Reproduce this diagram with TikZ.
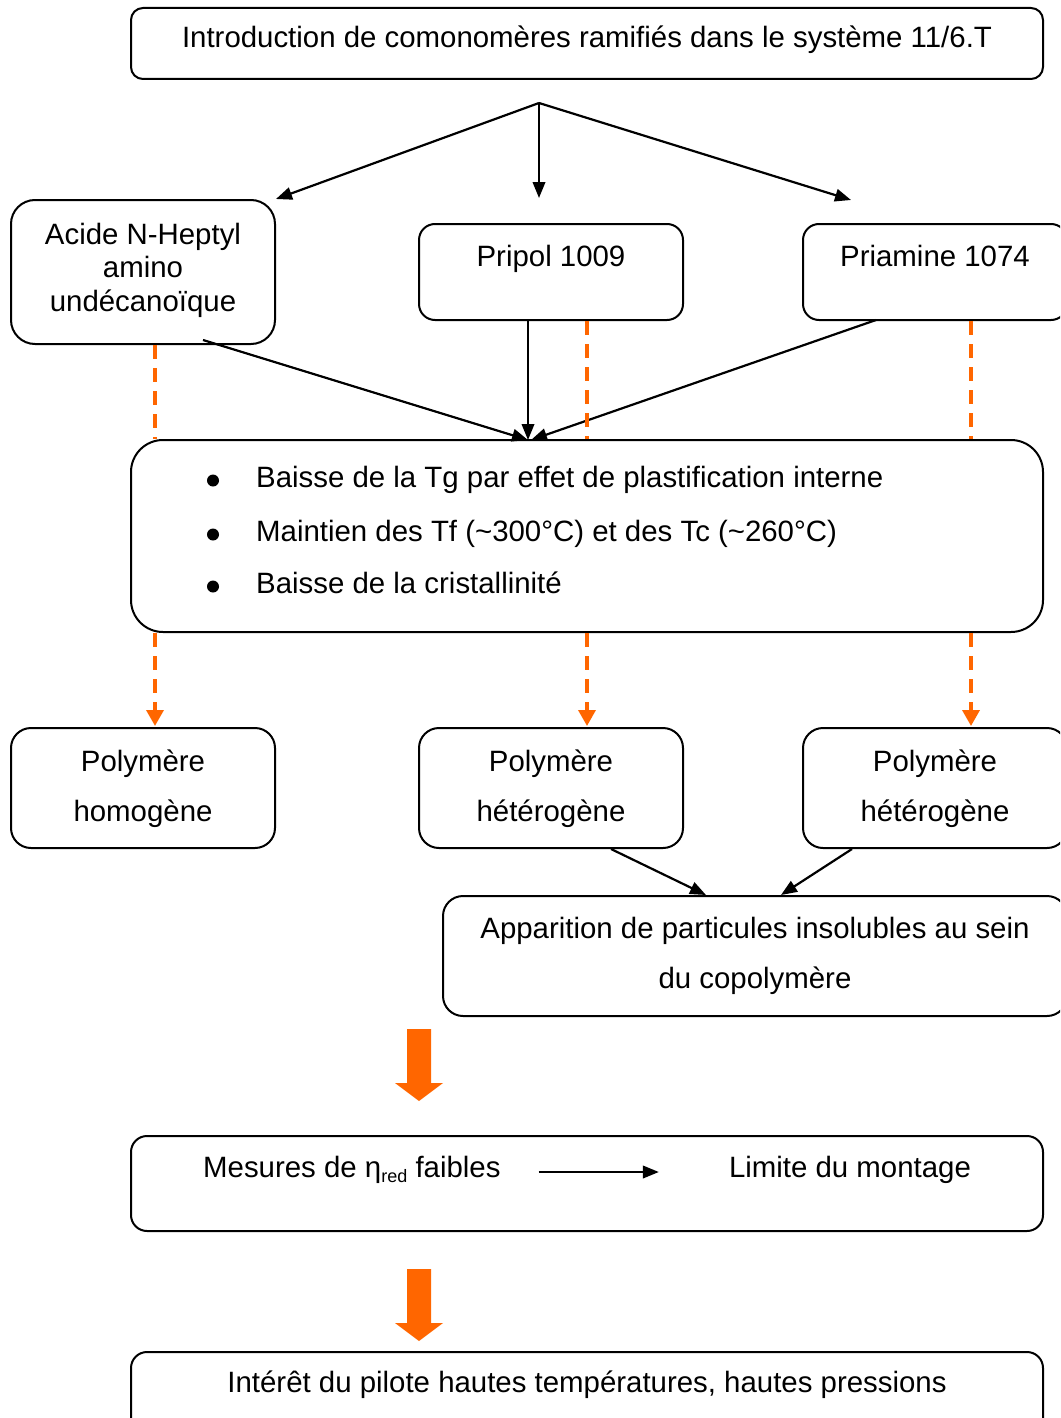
\documentclass[tikz,border=0pt]{standalone}
\usepackage{fontspec}
\setmainfont{Liberation Sans}
\usetikzlibrary{arrows.meta}
\definecolor{orangec}{HTML}{FF6600}

\begin{document}
\begin{tikzpicture}[x=1pt, y=-1pt,
    box/.style={draw, line width=2pt, fill=white, inner sep=0pt, rounded corners=#1},
    txt/.style={anchor=base, inner sep=0pt, font=\fontsize{29.4}{34}\selectfont},
    link/.style={line width=2.2pt, -{Triangle[length=16pt,width=12.5pt]}},
    orangedash/.style={orangec, line width=3.5pt, dash pattern=on 14pt off 9pt},
    orangetip/.style={-{Triangle[length=16pt,width=17pt]}, shorten >=1pt}]
    \useasboundingbox (0,0) rectangle (1060,1418);
    \clip (0,0) rectangle (1060,1418);

    % boxes
    \node[box=12, minimum width=912pt, minimum height=71pt] (top) at (587,43.5) {};
    \node[box=24, minimum width=264pt, minimum height=144pt] (acide) at (143,272) {};
    \node[box=16, minimum width=264pt, minimum height=96pt] (pripol) at (551,272) {};
    \node[box=16, minimum width=264pt, minimum height=96pt] (priamine) at (935,272) {};
    \node[box=32, minimum width=912pt, minimum height=192pt] (main) at (587,536) {};
    \node[box=20, minimum width=264pt, minimum height=120pt] (polyA) at (143,788) {};
    \node[box=20, minimum width=264pt, minimum height=120pt] (polyB) at (551,788) {};
    \node[box=20, minimum width=264pt, minimum height=120pt] (polyC) at (935,788) {};
    \node[box=20, minimum width=624pt, minimum height=120pt] (app) at (755,956) {};
    \node[box=16, minimum width=912pt, minimum height=95pt] (mes) at (587,1183.5) {};
    \node[box=16, minimum width=912pt, minimum height=96pt] (fin) at (587,1400) {};

    % texts
    \node[txt] (top-t) at (587,48) {Introduction de comonomères ramifiés dans le système 11/6.T};
    \foreach \s/\yy [count=\i] in {Acide N-Heptyl/244, amino/277, undécanoïque/311}
        \node[txt] (acide-\i) at (143,\yy) {\s};
    \node[txt] (pripol-t) at (551,266) {Pripol 1009};
    \node[txt] (priamine-t) at (935,266) {Priamine 1074};
    \foreach \yy/\s [count=\i] in {487/{Baisse de la Tg par effet de plastification interne},
            541/{Maintien des Tf (\textasciitilde300°C) et des Tc (\textasciitilde260°C)},
            593/{Baisse de la cristallinité}} {
        \node[circle, fill, inner sep=0pt, minimum size=12pt] (dot-\i) at (213,\yy-6.5) {};
        \node[txt, anchor=base west] (item-\i) at (256,\yy) {\s};
    }
    \foreach \n/\xx/\s in {A/143/homogène, B/551/hétérogène, C/935/hétérogène} {
        \node[txt] (poly\n-1) at (\xx,771) {Polymère};
        \node[txt] (poly\n-2) at (\xx,821) {\s};
    }
    \node[txt] (app-1) at (755,938) {Apparition de particules insolubles au sein};
    \node[txt] (app-2) at (755,988) {du copolymère};
    \node[txt, anchor=base west] (mes-t) at (203,1177)
        {Mesures de η\raisebox{-5pt}{\fontsize{18}{18}\selectfont red} faibles};
    \node[txt] (lim-t) at (850,1177) {Limite du montage};
    \node[txt] (fin-t) at (587,1392) {Intérêt du pilote hautes températures, hautes pressions};

    % black arrows
    \coordinate (split) at (539,103);
    \coordinate (endB) at (539,198);
    \coordinate (endC) at (851,200);
    \coordinate (hub) at (528,440);
    \coordinate (fromA) at (203,340);
    \coordinate (fromC) at (876,320);
    \draw[link] (split) -- (acide.north east);
    \draw[link] (split) -- (endB);
    \draw[link] (split) -- (endC);
    \draw[link] (fromA) -- (hub);
    \draw[link] (pripol.south -| hub) -- (hub);
    \draw[link] (fromC) -- ([xshift=3pt]hub);
    \draw[link] ([xshift=60pt]polyB.south) -- ([xshift=-49pt]app.north);
    \draw[link] ([xshift=-83pt]polyC.south) -- ([xshift=26pt]app.north);
    \draw[link] ([xshift=38pt,yshift=5pt]mes-t.base east) -- ([xshift=-70pt,yshift=5pt]lim-t.base west);

    % orange dashed lines
    \coordinate (xA) at (155,0);
    \coordinate (xB) at (587,0);
    \coordinate (xC) at (971,0);
    \foreach \src/\dst/\xx in {acide/polyA/xA, pripol/polyB/xB, priamine/polyC/xC} {
        \draw[orangedash] (\src.south -| \xx) -- (main.north -| \xx);
        \draw[orangedash, orangetip] (main.south -| \xx) -- (\dst.north -| \xx);
    }

    % block arrows
    \foreach \yy in {1029, 1269}
        \fill[orangec] (407,\yy) -- (431,\yy) -- (431,\yy+54) -- (443,\yy+54)
            -- (419,\yy+72) -- (395,\yy+54) -- (407,\yy+54) -- cycle;
\end{tikzpicture}
\end{document}
